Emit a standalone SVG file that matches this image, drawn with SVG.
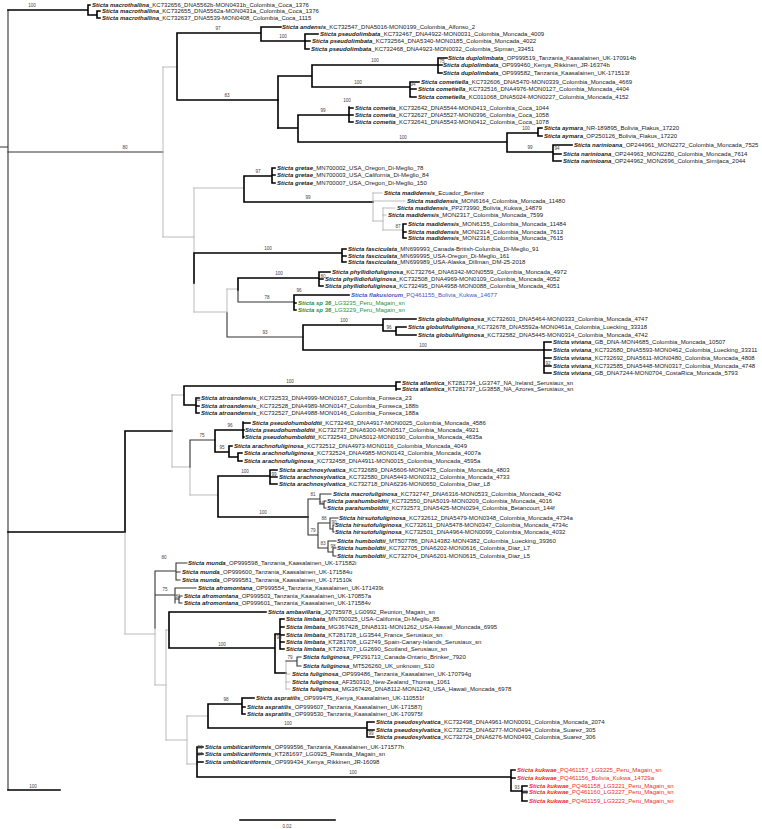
<svg xmlns="http://www.w3.org/2000/svg" width="762" height="829" viewBox="0 0 762 829">
<style>
.s{fill:none;stroke:#000;stroke-width:1.6;stroke-linecap:square}
.m{fill:none;stroke:#333;stroke-width:1.1;stroke-linecap:square}
.w{fill:none;stroke:#aaa;stroke-width:0.8;stroke-linecap:square}
text{font-family:"Liberation Sans",Arial,sans-serif}
.t{font-size:6px;fill:#222}
.sp{font-weight:bold;font-style:italic}
.b{font-size:4.6px;fill:#444;text-anchor:middle}
.bl{fill:#4656c4}.gr{fill:#2a9040}.rd{fill:#f02c2c}
</style>
<rect width="762" height="829" fill="#fff"/>
<g id="connectors">
<path class="m" d="M0,147H8 M8,10V790"/>
<path class="s" d="M8,532H125 M8,790H60"/>
<path class="s" d="M8,10H88 M88,5V15 M88,5H90 M88,15H97 M97,11V18 M97,11H100 M97,18H100"/>
<path class="m" d="M8,152H163"/>
<path class="w" d="M163,67V237 M163,67H177 M163,237H194"/>
<path class="s" d="M177,33V100 M177,33H261 M177,100H278 M261,27V41 M261,27H281 M261,41H305 M305,34V49 M305,34H318 M305,41H310 M305,49H309"/>
<path class="s" d="M278,76V128 M278,76H312 M312,65V87 M312,65H438 M312,87H410 M438,58V73 M438,58H447 M438,65H442 M438,73H442 M410,82V97 M410,82H419 M410,89H416 M410,97H416"/>
<path class="s" d="M278,128H298 M298,115V142 M298,115H349 M298,142H507 M349,107V122 M349,108H353 M349,115H353 M349,122H353 M507,133V152 M507,133H538 M507,152H553 M538,128V136 M538,128H542 M538,136H542 M553,145V161 M553,145H572 M553,154H561 M553,161H561"/>
<path class="w" d="M194,188V253 M194,283V312 M194,188H244 M194,312H227"/>
<path class="s" d="M244,176V202 M244,176H272 M244,202H373 M272,168V183 M272,168H275 M272,175H275 M272,183H275"/>
<path class="w" d="M373,193V221 M373,193H382 M373,201H405 M373,221H383 M383,208V230 M383,208H395 M383,215H386 M383,230H403"/>
<path class="s" d="M403,224V238 M403,224H406 M403,232H406 M403,238H406"/>
<path class="s" d="M194,253V283 M194,253H342 M342,249V262 M342,249H346 M342,256H346 M342,262H346"/>
<path class="w" d="M227,289V313 M227,289H238"/>
<path class="s" d="M238,278V290 M238,278H319 M319,272V286 M319,272H330 M319,279H323 M319,286H323"/>
<path class="m" d="M238,290V302 M238,302H294 M227,313V337 M227,337H303"/>
<path class="s" d="M294,295V310 M294,295H349 M294,303H296 M294,310H296"/>
<path class="s" d="M303,325V350 M303,325H383 M303,350H544 M383,319V331 M383,319H416 M383,331H396 M396,327V335 M396,327H406 M396,335H416 M544,342V373 M544,342H551 M544,350H551 M544,358H551 M544,366H551 M544,373H551"/>
<path class="s" d="M125,431V532 M125,431H172"/>
<path class="w" d="M125,532V634"/>
<path class="w" d="M172,395V467 M172,395H184 M172,467H190 M190,467V495 M190,495H218"/>
<path class="s" d="M184,386V405 M184,386H396 M184,405H196 M396,382V390 M396,382H400 M396,389H400 M196,398V413 M196,398H199 M196,406H199 M196,413H199"/>
<path class="m" d="M190,440V467 M190,440H215"/>
<path class="s" d="M215,430V452 M215,430H243 M215,452H229 M243,422V438 M243,423H250 M243,430H244 M243,437H244 M229,446V457 M229,446H232 M229,457H238 M238,453V461 M238,453H242 M238,461H242"/>
<path class="s" d="M218,476V517 M218,476H270 M218,517H308 M270,470V484 M270,470H277 M270,477H277 M270,484H277"/>
<path class="m" d="M308,499V535 M318,523V548 M308,499H320 M320,494V504 M320,494H331 M320,504H324 M324,501V508 M324,501H326 M324,508H326 M308,535H318 M318,523H330 M330,518V529 M330,518H338 M330,529H333 M333,525V532 M333,525H334 M333,532H334 M318,548H328 M328,541V552 M328,541H336 M328,552H333 M333,548V556 M333,548H336 M333,556H336"/>
<path class="w" d="M125,634H155 M155,628V685 M155,685H166 M166,630V740 M166,630H169 M166,740H187 M187,716V764 M187,716H208 M187,764H197"/>
<path class="m" d="M155,571V628 M155,571H176 M155,595H175 M176,563V580 M176,563H187 M176,572H180 M176,580H180 M175,588V603 M175,588H196 M175,599H179 M179,596V603 M179,596H182 M179,603H182"/>
<path class="s" d="M169,612V648 M169,612H266 M169,648H275 M275,634V673 M275,634H280 M280,619V649 M280,619H284 M280,627H284 M280,635H284 M280,642H284 M280,649H284 M275,673H286"/>
<path class="w" d="M286,661V689 M286,674H290 M286,682H290 M286,689H290"/>
<path class="m" d="M286,661H297 M297,657V666 M297,657H301 M297,666H301"/>
<path class="s" d="M208,704V728 M208,704H242 M208,728H367 M242,698V714 M242,698H254 M242,707H245 M242,714H245 M367,722V737 M367,722H374 M367,730H374 M367,737H374"/>
<path class="s" d="M197,747V777 M197,747H203 M197,754H203 M197,762H203 M197,777H511 M511,770V791 M511,770H515 M511,778H515 M511,791H522 M522,786V801 M522,786H527 M522,792H527 M522,801H527"/>
<path class="s" d="M240,820H335"/>
</g>
<g id="supports">
<text class="b" x="32" y="7">100</text>
<text class="b" x="125" y="149">80</text>
<text class="b" x="33" y="788">100</text>
<text class="b" x="218" y="30">97</text>
<text class="b" x="283" y="38">100</text>
<text class="b" x="227" y="97">83</text>
<text class="b" x="375" y="62">100</text>
<text class="b" x="442" y="63">75</text>
<text class="b" x="358" y="84">100</text>
<text class="b" x="413" y="86">94</text>
<text class="b" x="323" y="112">99</text>
<text class="b" x="347" y="102">100</text>
<text class="b" x="403" y="139">100</text>
<text class="b" x="526" y="130">100</text>
<text class="b" x="530" y="149">99</text>
<text class="b" x="557" y="150">94</text>
<text class="b" x="258" y="173">97</text>
<text class="b" x="308" y="199">99</text>
<text class="b" x="398" y="228">87</text>
<text class="b" x="268" y="250">100</text>
<text class="b" x="279" y="275">100</text>
<text class="b" x="323" y="278">80</text>
<text class="b" x="267" y="299">78</text>
<text class="b" x="299" y="292">96</text>
<text class="b" x="344" y="322">100</text>
<text class="b" x="389" y="329">96</text>
<text class="b" x="423" y="347">100</text>
<text class="b" x="265" y="334">93</text>
<text class="b" x="548" y="365">92</text>
<text class="b" x="290" y="383">100</text>
<text class="b" x="198" y="401">82</text>
<text class="b" x="230" y="427">96</text>
<text class="b" x="202" y="437">75</text>
<text class="b" x="222" y="449">95</text>
<text class="b" x="245" y="473">100</text>
<text class="b" x="274" y="476">99</text>
<text class="b" x="263" y="514">100</text>
<text class="b" x="313" y="496">81</text>
<text class="b" x="321" y="505">74</text>
<text class="b" x="324" y="520">88</text>
<text class="b" x="334" y="524">90</text>
<text class="b" x="313" y="532">79</text>
<text class="b" x="323" y="545">83</text>
<text class="b" x="333" y="548">98</text>
<text class="b" x="164" y="559">80</text>
<text class="b" x="165" y="591">75</text>
<text class="b" x="178" y="598">81</text>
<text class="b" x="222" y="646">100</text>
<text class="b" x="279" y="639">90</text>
<text class="b" x="290" y="659">79</text>
<text class="b" x="226" y="701">98</text>
<text class="b" x="288" y="725">100</text>
<text class="b" x="371" y="735">99</text>
<text class="b" x="200" y="749">90</text>
<text class="b" x="200" y="756">87</text>
<text class="b" x="353" y="774">100</text>
<text class="b" x="517" y="789">93</text>
<text class="b" x="525" y="794">83</text>
<text class="b" x="287" y="828">0.02</text>
</g>
<g id="t1"><text class="t" x="92" y="7.1"><tspan class="sp">Sticta macrothallina</tspan>_KC732656_DNA5562b-MON0431b_Colombia_Coca_1376</text></g>
<g id="t2"><text class="t" x="102" y="13.1"><tspan class="sp">Sticta macrothallina</tspan>_KC732655_DNA5562a-MON0431a_Colombia_Coca_1376</text></g>
<g id="t3"><text class="t" x="102" y="20.1"><tspan class="sp">Sticta macrothallina</tspan>_KC732637_DNA5539-MON0408_Colombia_Coca_1115</text></g>
<g id="t4"><text class="t" x="282" y="29.1"><tspan class="sp">Sticta andensis</tspan>_KC732547_DNA5016-MON0199_Colombia_Alfonso_2</text></g>
<g id="t5"><text class="t" x="320" y="36.1"><tspan class="sp">Sticta pseudolimbata</tspan>_KC732467_DNA4922-MON0031_Colombia_Moncada_4009</text></g>
<g id="t6"><text class="t" x="312" y="43.1"><tspan class="sp">Sticta pseudolimbata</tspan>_KC732564_DNA5340-MON0185_Colombia_Moncada_4022</text></g>
<g id="t7"><text class="t" x="311" y="51.1"><tspan class="sp">Sticta pseudolimbata</tspan>_KC732468_DNA4923-MON0032_Colombia_Sipman_33451</text></g>
<g id="t8"><text class="t" x="448" y="60.1"><tspan class="sp">Sticta duplolimbata</tspan>_OP999519_Tanzania_Kaasalainen_UK-170914b</text></g>
<g id="t9"><text class="t" x="443" y="67.1"><tspan class="sp">Sticta duplolimbata</tspan>_OP999460_Kenya_Rikkinen_JR-16374b</text></g>
<g id="t10"><text class="t" x="443" y="75.1"><tspan class="sp">Sticta duplolimbata</tspan>_OP999582_Tanzania_Kaasalainen_UK-171513f</text></g>
<g id="t11"><text class="t" x="421" y="84.1"><tspan class="sp">Sticta cometiella</tspan>_KC732606_DNA5470-MON0339_Colombia_Moncada_4669</text></g>
<g id="t12"><text class="t" x="418" y="91.1"><tspan class="sp">Sticta cometiella</tspan>_KC732516_DNA4976-MON0127_Colombia_Moncada_4404</text></g>
<g id="t13"><text class="t" x="418" y="99.1"><tspan class="sp">Sticta cometiella</tspan>_KC011068_DNA5024-MON0227_Colombia_Moncada_4152</text></g>
<g id="t14"><text class="t" x="355" y="110.1"><tspan class="sp">Sticta cometia</tspan>_KC732642_DNA5544-MON0413_Colombia_Coca_1044</text></g>
<g id="t15"><text class="t" x="355" y="117.1"><tspan class="sp">Sticta cometia</tspan>_KC732627_DNA5527-MON0396_Colombia_Coca_1058</text></g>
<g id="t16"><text class="t" x="355" y="124.1"><tspan class="sp">Sticta cometia</tspan>_KC732641_DNA5543-MON0412_Colombia_Coca_1078</text></g>
<g id="t17"><text class="t" x="544" y="130.1"><tspan class="sp">Sticta aymara</tspan>_NR-189895_Bolivia_Flakus_17220</text></g>
<g id="t18"><text class="t" x="544" y="138.1"><tspan class="sp">Sticta aymara</tspan>_OP250126_Bolivia_Flakus_17220</text></g>
<g id="t19"><text class="t" x="574" y="147.1"><tspan class="sp">Sticta narinioana</tspan>_OP244961_MON2272_Colombia_Moncada_7525</text></g>
<g id="t20"><text class="t" x="563" y="156.1"><tspan class="sp">Sticta narinioana</tspan>_OP244963_MON2280_Colombia_Moncada_7614</text></g>
<g id="t21"><text class="t" x="563" y="163.1"><tspan class="sp">Sticta narinioana</tspan>_OP244962_MON2696_Colombia_Simijaca_2044</text></g>
<g id="t22"><text class="t" x="277" y="170.1"><tspan class="sp">Sticta gretae</tspan>_MN700002_USA_Oregon_Di-Meglio_78</text></g>
<g id="t23"><text class="t" x="277" y="177.1"><tspan class="sp">Sticta gretae</tspan>_MN700003_USA_California_Di-Meglio_84</text></g>
<g id="t24"><text class="t" x="277" y="185.1"><tspan class="sp">Sticta gretae</tspan>_MN700007_USA_Oregon_Di-Meglio_150</text></g>
<g id="t25"><text class="t" x="384" y="195.1"><tspan class="sp">Sticta madidensis</tspan>_Ecuador_Benitez</text></g>
<g id="t26"><text class="t" x="407" y="203.1"><tspan class="sp">Sticta madidensis</tspan>_MON6164_Colombia_Moncada_11480</text></g>
<g id="t27"><text class="t" x="397" y="210.1"><tspan class="sp">Sticta madidensis</tspan>_PP273990_Bolivia_Kukwa_14879</text></g>
<g id="t28"><text class="t" x="388" y="217.1"><tspan class="sp">Sticta madidensis</tspan>_MON2317_Colombia_Moncada_7599</text></g>
<g id="t29"><text class="t" x="408" y="226.1"><tspan class="sp">Sticta madidensis</tspan>_MON6155_Colombia_Moncada_11484</text></g>
<g id="t30"><text class="t" x="408" y="234.1"><tspan class="sp">Sticta madidensis</tspan>_MON2314_Colombia_Moncada_7613</text></g>
<g id="t31"><text class="t" x="408" y="240.1"><tspan class="sp">Sticta madidensis</tspan>_MON2318_Colombia_Moncada_7615</text></g>
<g id="t32"><text class="t" x="348" y="251.1"><tspan class="sp">Sticta fasciculata</tspan>_MN699993_Canada-British-Columbia_Di-Meglio_91</text></g>
<g id="t33"><text class="t" x="348" y="258.1"><tspan class="sp">Sticta fasciculata</tspan>_MN699995_USA-Oregon_Di-Meglio_161</text></g>
<g id="t34"><text class="t" x="348" y="264.1"><tspan class="sp">Sticta fasciculata</tspan>_MN699989_USA-Alaska_Dillman_DM-25-2018</text></g>
<g id="t35"><text class="t" x="332" y="274.1"><tspan class="sp">Sticta phyllidiofuliginosa</tspan>_KC732764_DNA6342-MON0559_Colombia_Moncada_4972</text></g>
<g id="t36"><text class="t" x="325" y="281.1"><tspan class="sp">Sticta phyllidiofuliginosa</tspan>_KC732508_DNA4969-MON0109_Colombia_Moncada_4052</text></g>
<g id="t37"><text class="t" x="325" y="288.1"><tspan class="sp">Sticta phyllidiofuliginosa</tspan>_KC732495_DNA4958-MON0088_Colombia_Moncada_4051</text></g>
<g id="t38"><text class="t bl" x="351" y="297.1"><tspan class="sp">Sticta flakusiorum</tspan>_PQ461155_Bolivia_Kukwa_14677</text></g>
<g id="t39"><text class="t gr" x="298" y="305.1"><tspan class="sp">Sticta sp 36</tspan>_LG3235_Peru_Magain_sn</text></g>
<g id="t40"><text class="t gr" x="298" y="312.1"><tspan class="sp">Sticta sp 36</tspan>_LG3229_Peru_Magain_sn</text></g>
<g id="t41"><text class="t" x="418" y="321.1"><tspan class="sp">Sticta globulifuliginosa</tspan>_KC732601_DNA5464-MON0333_Colombia_Moncada_4747</text></g>
<g id="t42"><text class="t" x="408" y="329.1"><tspan class="sp">Sticta globulifuliginosa</tspan>_KC732678_DNA5592a-MON0461a_Colombia_Luecking_33318</text></g>
<g id="t43"><text class="t" x="418" y="337.1"><tspan class="sp">Sticta globulifuliginosa</tspan>_KC732582_DNA5445-MON0314_Colombia_Moncada_4742</text></g>
<g id="t44"><text class="t" x="553" y="344.1"><tspan class="sp">Sticta viviana</tspan>_GB_DNA-MON4685_Colombia_Moncada_10507</text></g>
<g id="t45"><text class="t" x="553" y="352.1"><tspan class="sp">Sticta viviana</tspan>_KC732680_DNA5593-MON0462_Colombia_Luecking_33311</text></g>
<g id="t46"><text class="t" x="553" y="360.1"><tspan class="sp">Sticta viviana</tspan>_KC732692_DNA5611-MON0480_Colombia_Moncada_4808</text></g>
<g id="t47"><text class="t" x="553" y="368.1"><tspan class="sp">Sticta viviana</tspan>_KC732585_DNA5448-MON0317_Colombia_Moncada_4748</text></g>
<g id="t48"><text class="t" x="553" y="375.1"><tspan class="sp">Sticta viviana</tspan>_GB_DNA7244-MON0704_CostaRica_Moncada_5793</text></g>
<g id="t49"><text class="t" x="402" y="385.1"><tspan class="sp">Sticta atlantica</tspan>_KT281734_LG3747_NA_Ireland_Serusiaux_sn</text></g>
<g id="t50"><text class="t" x="402" y="391.1"><tspan class="sp">Sticta atlantica</tspan>_KT281737_LG3858_NA_Azores_Serusiaux_sn</text></g>
<g id="t51"><text class="t" x="201" y="400.1"><tspan class="sp">Sticta atroandensis</tspan>_KC732533_DNA4999-MON0167_Colombia_Fonseca_23</text></g>
<g id="t52"><text class="t" x="201" y="408.1"><tspan class="sp">Sticta atroandensis</tspan>_KC732528_DNA4989-MON0147_Colombia_Fonseca_188b</text></g>
<g id="t53"><text class="t" x="201" y="415.1"><tspan class="sp">Sticta atroandensis</tspan>_KC732527_DNA4988-MON0146_Colombia_Fonseca_188a</text></g>
<g id="t54"><text class="t" x="252" y="425.1"><tspan class="sp">Sticta pseudohumboldtii</tspan>_KC732463_DNA4917-MON0025_Colombia_Moncada_4586</text></g>
<g id="t55"><text class="t" x="245" y="432.1"><tspan class="sp">Sticta pseudohumboldtii</tspan>_KC732737_DNA6300-MON0517_Colombia_Moncada_4921</text></g>
<g id="t56"><text class="t" x="245" y="439.1"><tspan class="sp">Sticta pseudohumboldtii</tspan>_KC732543_DNA5012-MON0190_Colombia_Moncada_4635a</text></g>
<g id="t57"><text class="t" x="234" y="448.1"><tspan class="sp">Sticta arachnofuliginosa</tspan>_KC732512_DNA4973-MON0116_Colombia_Moncada_4049</text></g>
<g id="t58"><text class="t" x="244" y="455.1"><tspan class="sp">Sticta arachnofuliginosa</tspan>_KC732524_DNA4985-MON0143_Colombia_Moncada_4007a</text></g>
<g id="t59"><text class="t" x="244" y="463.1"><tspan class="sp">Sticta arachnofuliginosa</tspan>_KC732458_DNA4911-MON0015_Colombia_Moncada_4595a</text></g>
<g id="t60"><text class="t" x="279" y="472.1"><tspan class="sp">Sticta arachnosylvatica</tspan>_KC732689_DNA5606-MON0475_Colombia_Moncada_4803</text></g>
<g id="t61"><text class="t" x="279" y="479.1"><tspan class="sp">Sticta arachnosylvatica</tspan>_KC732580_DNA5443-MON0312_Colombia_Moncada_4733</text></g>
<g id="t62"><text class="t" x="279" y="486.1"><tspan class="sp">Sticta arachnosylvatica</tspan>_KC732718_DNA6236-MON0650_Colombia_Diaz_L8</text></g>
<g id="t63"><text class="t" x="333" y="496.1"><tspan class="sp">Sticta macrofuliginosa</tspan>_KC732747_DNA6316-MON0533_Colombia_Moncada_4042</text></g>
<g id="t64"><text class="t" x="327" y="503.1"><tspan class="sp">Sticta parahumboldtii</tspan>_KC732550_DNA5019-MON0209_Colombia_Moncada_4016</text></g>
<g id="t65"><text class="t" x="327" y="510.1"><tspan class="sp">Sticta parahumboldtii</tspan>_KC732573_DNA5425-MON0294_Colombia_Betancourt_144f</text></g>
<g id="t66"><text class="t" x="339" y="520.1"><tspan class="sp">Sticta hirsutofuliginosa</tspan>_KC732612_DNA5479-MON0348_Colombia_Moncada_4734a</text></g>
<g id="t67"><text class="t" x="335" y="527.1"><tspan class="sp">Sticta hirsutofuliginosa</tspan>_KC732611_DNA5478-MON0347_Colombia_Moncada_4734c</text></g>
<g id="t68"><text class="t" x="335" y="534.1"><tspan class="sp">Sticta hirsutofuliginosa</tspan>_KC732501_DNA4964-MON0099_Colombia_Moncada_4032</text></g>
<g id="t69"><text class="t" x="337" y="543.1"><tspan class="sp">Sticta humboldtii</tspan>_MT507786_DNA14382-MON4382_Colombia_Luecking_39360</text></g>
<g id="t70"><text class="t" x="337" y="550.1"><tspan class="sp">Sticta humboldtii</tspan>_KC732705_DNA6202-MON0616_Colombia_Diaz_L7</text></g>
<g id="t71"><text class="t" x="337" y="558.1"><tspan class="sp">Sticta humboldtii</tspan>_KC732704_DNA6201-MON0615_Colombia_Diaz_L5</text></g>
<g id="t72"><text class="t" x="188" y="565.1"><tspan class="sp">Sticta munda</tspan>_OP999598_Tanzania_Kaasalainen_UK-171582i</text></g>
<g id="t73"><text class="t" x="182" y="574.1"><tspan class="sp">Sticta munda</tspan>_OP999600_Tanzania_Kaasalainen_UK-171584u</text></g>
<g id="t74"><text class="t" x="182" y="582.1"><tspan class="sp">Sticta munda</tspan>_OP999581_Tanzania_Kaasalainen_UK-171510k</text></g>
<g id="t75"><text class="t" x="198" y="590.1"><tspan class="sp">Sticta afromontana</tspan>_OP999554_Tanzania_Kaasalainen_UK-171439t</text></g>
<g id="t76"><text class="t" x="184" y="598.1"><tspan class="sp">Sticta afromontana</tspan>_OP999503_Tanzania_Kaasalainen_UK-170857a</text></g>
<g id="t77"><text class="t" x="184" y="605.1"><tspan class="sp">Sticta afromontana</tspan>_OP999601_Tanzania_Kaasalainen_UK-171584v</text></g>
<g id="t78"><text class="t" x="268" y="614.1"><tspan class="sp">Sticta ambavillaria</tspan>_JQ735978_LG0992_Reunion_Magain_sn</text></g>
<g id="t79"><text class="t" x="286" y="621.1"><tspan class="sp">Sticta limbata</tspan>_MN700025_USA-California_Di-Meglio_85</text></g>
<g id="t80"><text class="t" x="286" y="629.1"><tspan class="sp">Sticta limbata</tspan>_MG367428_DNA8131-MON1262_USA-Hawaii_Moncada_6995</text></g>
<g id="t81"><text class="t" x="286" y="637.1"><tspan class="sp">Sticta limbata</tspan>_KT281728_LG3544_France_Serusiaux_sn</text></g>
<g id="t82"><text class="t" x="286" y="644.1"><tspan class="sp">Sticta limbata</tspan>_KT281708_LG2749_Spain-Canary-Islands_Serusiaux_sn</text></g>
<g id="t83"><text class="t" x="286" y="651.1"><tspan class="sp">Sticta limbata</tspan>_KT281707_LG2690_Scotland_Serusiaux_sn</text></g>
<g id="t84"><text class="t" x="303" y="659.1"><tspan class="sp">Sticta fuliginosa</tspan>_PP291713_Canada-Ontario_Brinker_7920</text></g>
<g id="t85"><text class="t" x="303" y="668.1"><tspan class="sp">Sticta fuliginosa</tspan>_MT526260_UK_unknown_S10</text></g>
<g id="t86"><text class="t" x="292" y="676.1"><tspan class="sp">Sticta fuliginosa</tspan>_OP999486_Tanzania_Kaasalainen_UK-170794g</text></g>
<g id="t87"><text class="t" x="292" y="684.1"><tspan class="sp">Sticta fuliginosa</tspan>_AF350310_New-Zealand_Thomas_1061</text></g>
<g id="t88"><text class="t" x="292" y="691.1"><tspan class="sp">Sticta fuliginosa</tspan>_MG367426_DNA8112-MON1243_USA_Hawaii_Moncada_6978</text></g>
<g id="t89"><text class="t" x="256" y="700.1"><tspan class="sp">Sticta aspratilis</tspan>_OP999475_Kenya_Kaasalainen_UK-110551f</text></g>
<g id="t90"><text class="t" x="247" y="709.1"><tspan class="sp">Sticta aspratilis</tspan>_OP999607_Tanzania_Kaasalainen_UK-171587j</text></g>
<g id="t91"><text class="t" x="247" y="716.1"><tspan class="sp">Sticta aspratilis</tspan>_OP999530_Tanzania_Kaasalainen_UK-170975f</text></g>
<g id="t92"><text class="t" x="376" y="724.1"><tspan class="sp">Sticta pseudosylvatica</tspan>_KC732498_DNA4961-MON0091_Colombia_Moncada_2074</text></g>
<g id="t93"><text class="t" x="376" y="732.1"><tspan class="sp">Sticta pseudosylvatica</tspan>_KC732725_DNA6277-MON0494_Colombia_Suarez_305</text></g>
<g id="t94"><text class="t" x="376" y="739.1"><tspan class="sp">Sticta pseudosylvatica</tspan>_KC732724_DNA6276-MON0493_Colombia_Suarez_306</text></g>
<g id="t95"><text class="t" x="205" y="749.1"><tspan class="sp">Sticta umbilicariiformis</tspan>_OP999596_Tanzania_Kaasalainen_UK-171577h</text></g>
<g id="t96"><text class="t" x="205" y="756.1"><tspan class="sp">Sticta umbilicariiformis</tspan>_KT281697_LG0925_Rwanda_Magain_sn</text></g>
<g id="t97"><text class="t" x="205" y="764.1"><tspan class="sp">Sticta umbilicariiformis</tspan>_OP999434_Kenya_Rikkinen_JR-16098</text></g>
<g id="t98"><text class="t rd" x="517" y="772.1"><tspan class="sp">Sticta kukwae</tspan>_PQ461157_LG3225_Peru_Magain_sn</text></g>
<g id="t99"><text class="t rd" x="517" y="780.1"><tspan class="sp">Sticta kukwae</tspan>_PQ461156_Bolivia_Kukwa_14729a</text></g>
<g id="t100"><text class="t rd" x="529" y="788.1"><tspan class="sp">Sticta kukwae</tspan>_PQ461158_LG3221_Peru_Magain_sn</text></g>
<g id="t101"><text class="t rd" x="529" y="794.1"><tspan class="sp">Sticta kukwae</tspan>_PQ461160_LG3227_Peru_Magain_sn</text></g>
<g id="t102"><text class="t rd" x="529" y="803.1"><tspan class="sp">Sticta kukwae</tspan>_PQ461159_LG3223_Peru_Magain_sn</text></g>
</svg>
